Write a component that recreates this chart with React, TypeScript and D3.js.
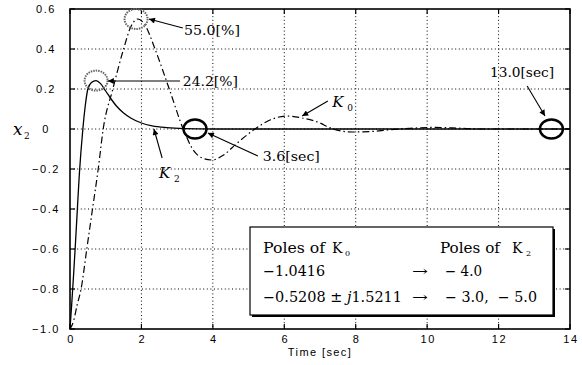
import { curveMonotoneX, line, scaleLinear } from "d3";

// x2 response with gain K2 (solid)
const timeK2 = [0, 0.05, 0.1, 0.15, 0.2, 0.26, 0.36, 0.43, 0.5, 0.6, 0.73, 0.85, 1.0, 1.15, 1.3, 1.5, 1.7, 2.0, 2.3, 2.7, 3.2, 4, 14];
const valueK2 = [-1, -0.87, -0.73, -0.58, -0.42, -0.23, 0, 0.12, 0.2, 0.232, 0.242, 0.228, 0.19, 0.15, 0.115, 0.08, 0.055, 0.03, 0.016, 0.007, 0.002, 0, 0];

// x2 response with gain K0 (dash-dot)
const timeK0 = [0, 0.1, 0.2, 0.31, 0.47, 0.63, 0.79, 0.93, 1.2, 1.5, 1.7, 1.9, 2.1, 2.38, 2.78, 3.17, 3.45, 3.7, 3.97, 4.3, 4.67, 5.18, 5.6, 6.07, 6.5, 6.9, 7.37, 7.9, 8.4, 8.9, 9.5, 10.2, 10.9, 11.5, 12.5, 14];
const valueK0 = [-1, -0.96, -0.88, -0.8, -0.6, -0.4, -0.2, 0, 0.2, 0.4, 0.51, 0.55, 0.52, 0.4, 0.2, 0, -0.105, -0.145, -0.155, -0.13, -0.072, 0, 0.045, 0.065, 0.055, 0.037, 0, -0.015, -0.013, -0.005, 0.003, 0.008, 0.004, 0, 0, 0];

const xTicks = [0, 2, 4, 6, 8, 10, 12, 14];
const yTicks = [0.6, 0.4, 0.2, 0, -0.2, -0.4, -0.6, -0.8, -1.0];
const yTickLabels = ["0.6", "0.4", "0.2", "0", "\u22120.2", "\u22120.4", "\u22120.6", "\u22120.8", "\u22121.0"];

// annotations, in data units
const peakMarks = [
  { t: 0.73, v: 0.242 },
  { t: 1.85, v: 0.55 },
];
const settleMarks = [
  { t: 3.5, v: 0 },
  { t: 13.48, v: 0 },
];
const arrows = [
  { t1: 3.16, v1: 0.505, t2: 2.21, v2: 0.55 },
  { t1: 3.08, v1: 0.24, t2: 1.06, v2: 0.24 },
  { t1: 7.22, v1: 0.14, t2: 6.5, v2: 0.065 },
  { t1: 2.58, v1: -0.145, t2: 2.35, v2: 0.0 },
  { t1: 5.26, v1: -0.135, t2: 3.86, v2: -0.02 },
  { t1: 12.8, v1: 0.215, t2: 13.3, v2: 0.065 },
];
const notes = [
  { t: 3.19, v: 0.47, text: "55.0[%]", len: 56 },
  { t: 3.16, v: 0.215, text: "24.2[%]", len: 55 },
  { t: 5.4, v: -0.16, text: "3.6[sec]", len: 57 },
  { t: 11.76, v: 0.26, text: "13.0[sec]", len: 64 },
];
const curveLabels = [
  { t: 7.34, v: 0.11, sub: "0" },
  { t: 2.49, v: -0.245, sub: "2" },
];

const W = 582;
const H = 365;
const serif = "'DejaVu Serif', serif";
const sans = "'Liberation Sans', Arimo, Roboto, 'DejaVu Sans', sans-serif";

export default function App() {
  const x = scaleLinear().domain([0, 14]).range([70, 570]);
  const y = scaleLinear().domain([-1, 0.6]).range([329, 9]);

  const path = (ts: number[], vs: number[]) =>
    line<number>()
      .x((_, i) => x(ts[i]))
      .y((d) => y(d))
      .curve(curveMonotoneX)(vs) ?? "";

  const [x0, x1] = x.range();
  const [y0, y1] = y.range();

  // legend box
  const bx = 250;
  const by = 227;
  const bw = 303;
  const bh = 88;
  const row = [by + 26, by + 49, by + 75];

  return (
    <svg
      width={W}
      height={H}
      viewBox={`0 0 ${W} ${H}`}
      style={{ position: "absolute", left: 0, top: 0, background: "#fff" }}
    >
      <defs>
        <marker
          id="arr"
          viewBox="0 0 10 10"
          refX="10"
          refY="5"
          markerWidth="9"
          markerHeight="6"
          markerUnits="userSpaceOnUse"
          orient="auto"
        >
          <path d="M0,0L10,5L0,10z" fill="#000" />
        </marker>
      </defs>
      <rect width={W} height={H} fill="#fff" />

      {/* grid */}
      <g stroke="#000" strokeWidth={1} strokeDasharray="1 2.6">
        {xTicks.slice(1, -1).map((t) => (
          <line key={t} x1={x(t)} x2={x(t)} y1={y1} y2={y0} />
        ))}
        {yTicks.slice(1, -1).map((v) => (
          <line key={v} x1={x0} x2={x1} y1={y(v)} y2={y(v)} />
        ))}
      </g>

      {/* inward ticks */}
      <g stroke="#000" strokeWidth={1.2}>
        {xTicks.map((t) => (
          <g key={t}>
            <line x1={x(t)} x2={x(t)} y1={y0} y2={y0 - 5} />
            <line x1={x(t)} x2={x(t)} y1={y1} y2={y1 + 5} />
          </g>
        ))}
        {yTicks.map((v) => (
          <g key={v}>
            <line x1={x0} x2={x0 + 5} y1={y(v)} y2={y(v)} />
            <line x1={x1} x2={x1 - 5} y1={y(v)} y2={y(v)} />
          </g>
        ))}
      </g>

      {/* curves */}
      <path d={path(timeK0, valueK0)} fill="none" stroke="#000" strokeWidth={1.2} strokeDasharray="7 3 1.5 3" />
      <path d={path(timeK2, valueK2)} fill="none" stroke="#000" strokeWidth={1.3} />

      {/* frame */}
      <rect x={x0} y={y1} width={x1 - x0} height={y0 - y1} fill="none" stroke="#000" strokeWidth={1.6} />

      {/* tick labels */}
      <g fontFamily={sans} fontSize={11} letterSpacing={1.6} fill="#000">
        {yTicks.map((v, i) => (
          <text key={v} x={46} y={y(v) + 4} textAnchor="middle">
            {yTickLabels[i]}
          </text>
        ))}
        {xTicks.map((t) => (
          <text key={t} x={x(t) + 1} y={343} textAnchor="middle">
            {t}
          </text>
        ))}
      </g>
      <text x={320} y={356} textAnchor="middle" fontFamily={sans} fontSize={11} letterSpacing={1.4}>
        Time [sec]
      </text>
      <text x={13} y={135} fontFamily={serif} fontSize={17} fontStyle="italic">
        x
      </text>
      <text x={24} y={139} fontFamily={serif} fontSize={9}>
        2
      </text>

      {/* annotation marks */}
      {peakMarks.map((m, i) => (
        <ellipse
          key={i}
          cx={x(m.t)}
          cy={y(m.v)}
          rx={11.5}
          ry={10}
          fill="none"
          stroke="#666"
          strokeWidth={2}
          strokeDasharray="1.5 1"
        />
      ))}
      {settleMarks.map((m, i) => (
        <ellipse key={i} cx={x(m.t)} cy={y(m.v)} rx={11.5} ry={9.5} fill="none" stroke="#000" strokeWidth={2.4} />
      ))}
      <g stroke="#000" strokeWidth={1.1}>
        {arrows.map((a, i) => (
          <line key={i} x1={x(a.t1)} y1={y(a.v1)} x2={x(a.t2)} y2={y(a.v2)} markerEnd="url(#arr)" />
        ))}
      </g>
      <g fontFamily={serif} fontSize={13} fill="#000">
        {notes.map((n) => (
          <text key={n.text} x={x(n.t)} y={y(n.v)} textLength={n.len} lengthAdjust="spacingAndGlyphs">
            {n.text}
          </text>
        ))}
      </g>
      {curveLabels.map((c) => (
        <g key={c.sub} fontFamily={serif} fill="#000">
          <text x={x(c.t)} y={y(c.v)} fontSize={15} fontStyle="italic">
            K
          </text>
          <text x={x(c.t) + 15} y={y(c.v) + 4} fontSize={9}>
            {c.sub}
          </text>
        </g>
      ))}

      {/* pole table */}
      <rect x={bx + 2} y={by + 2} width={bw} height={bh} fill="#000" />
      <rect x={bx} y={by} width={bw} height={bh} fill="#fff" stroke="#000" strokeWidth={1.2} />
      <g fontFamily={serif} fontSize={14} fill="#000">
        <text x={bx + 13} y={row[0]} textLength={62} lengthAdjust="spacingAndGlyphs">
          Poles of
        </text>
        <text x={bx + 82} y={row[0]}>K</text>
        <text x={bx + 95} y={row[0] + 3} fontSize={8}>
          0
        </text>
        <text x={bx + 190} y={row[0]} textLength={60} lengthAdjust="spacingAndGlyphs">
          Poles of
        </text>
        <text x={bx + 262} y={row[0]}>K</text>
        <text x={bx + 276} y={row[0] + 3} fontSize={8}>
          2
        </text>

        <text x={bx + 13} y={row[1]} textLength={62} lengthAdjust="spacingAndGlyphs">
          {"\u22121.0416"}
        </text>
        <text x={bx + 162} y={row[1]} textLength={16} lengthAdjust="spacingAndGlyphs">
          {"\u2192"}
        </text>
        <text x={bx + 195} y={row[1]} textLength={37} lengthAdjust="spacingAndGlyphs">
          {"\u2212 4.0"}
        </text>

        <text x={bx + 13} y={row[2]} textLength={139} lengthAdjust="spacingAndGlyphs">
          {"\u22120.5208 \u00b1 "}
          <tspan fontStyle="italic">j</tspan>
          {"1.5211"}
        </text>
        <text x={bx + 162} y={row[2]} textLength={16} lengthAdjust="spacingAndGlyphs">
          {"\u2192"}
        </text>
        <text x={bx + 195} y={row[2]} textLength={92} lengthAdjust="spacingAndGlyphs">
          {"\u2212 3.0,\u00a0\u00a0\u2212 5.0"}
        </text>
      </g>
    </svg>
  );
}
